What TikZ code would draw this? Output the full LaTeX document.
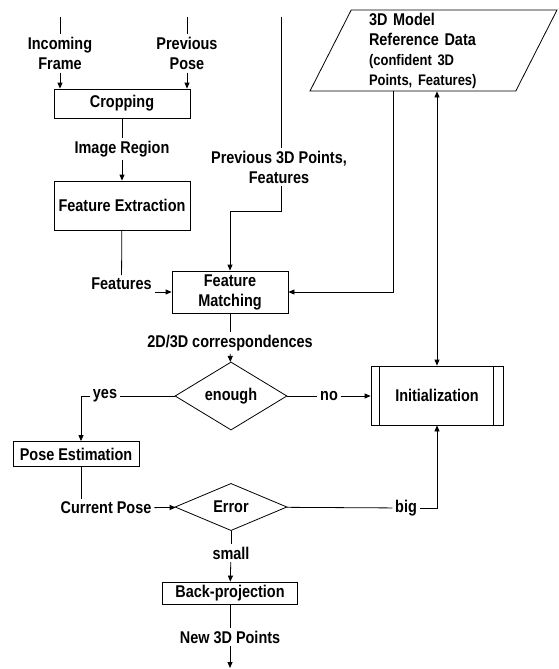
\documentclass[tikz,border=0pt]{standalone}
\usepackage{fontspec}
\setmainfont[FakeStretch=0.85]{Liberation Sans}
\usetikzlibrary{shapes.geometric,arrows.meta}
\newcommand{\notefont}{\fontsize{15.3}{18}\selectfont}
\tikzstyle{box}=[draw,rectangle,align=center,inner sep=2pt]
\tikzstyle{lbl}=[align=center,inner sep=2.5pt]
\tikzstyle{decision}=[draw,diamond,minimum width=112pt,minimum height=46pt,inner sep=0pt]
\tikzstyle{store}=[draw,trapezium,trapezium left angle=62,trapezium right angle=118,
  trapezium stretches body,minimum width=247pt,minimum height=81pt,
  text width=129pt,align=left,inner sep=1pt]

\begin{document}
\begin{tikzpicture}[x=1pt, y=-1pt, >={Triangle[length=6pt,width=5pt]},
    line width=0.8pt, font=\fontsize{17}{20}\selectfont\bfseries]
  \useasboundingbox (0,0) rectangle (558,669);

  \coordinate (inTop)  at (60,17);
  \coordinate (prTop)  at (187,17);
  \coordinate (p3dTop) at (281,17);
  \coordinate (p3dBend) at (281,211);
  \coordinate (newEnd) at (230,668);

  \node[lbl] (inLbl) at (60,53.5) {Incoming\\Frame};
  \node[lbl] (prLbl) at (187,53.5) {Previous\\Pose};
  \node[box, minimum width=136pt, minimum height=29pt] (crop) at (122,103.5) {Cropping};
  \node[lbl] (regLbl) at (122,149) {Image Region};
  \node[box, minimum width=136pt, minimum height=49pt] (fext) at (122,205.5) {Feature Extraction};
  \node[lbl] (featLbl) at (121.5,284) {Features};
  \node[lbl] (p3dLbl) at (279,167) {Previous 3D Points,\\Features};
  \node[store] (model) at (433.5,50.5)
    {3D Model\\Reference Data\\{\notefont (confident 3D}\\{\notefont Points, Features)}};
  \node[box, minimum width=116pt, minimum height=42pt] (fmatch) at (230,292) {Feature\\Matching};
  \node[lbl] (corrLbl) at (230,343) {2D/3D correspondences};
  \node[decision] (enough) at (231,396) {enough};
  \node[lbl] (yesLbl) at (105,396) {yes};
  \node[lbl] (noLbl) at (329,396) {no};
  \node[box, minimum width=132pt, minimum height=59pt] (init) at (437,395.5) {Initialization};
  \node[box, minimum width=126pt, minimum height=25pt] (pose) at (76,454) {Pose Estimation};
  \node[lbl] (curLbl) at (106,508) {Current Pose};
  \node[decision] (err) at (231,507) {Error};
  \node[lbl] (bigLbl) at (406,508) {big};
  \node[lbl] (smallLbl) at (231,553) {small};
  \node[box, minimum width=135pt, minimum height=22pt] (back) at (230,593) {Back-projection};
  \node[lbl] (newLbl) at (230,637) {New 3D Points};

  % extra bars of the initialization box
  \draw ([xshift=9pt]init.north west) -- ([xshift=9pt]init.south west)
        ([xshift=-10pt]init.north east) -- ([xshift=-10pt]init.south east);

  \draw (inTop) -- (inLbl);
  \draw[->] (inLbl) -- (inLbl |- crop.north);
  \draw (prTop) -- (prLbl);
  \draw[->] (prLbl) -- (prLbl |- crop.north);
  \draw (crop) -- (regLbl);
  \draw[->] (regLbl) -- (fext);
  \draw (fext) -- (featLbl);
  \draw[->] (featLbl.east |- fmatch) -- (fmatch);
  \draw (p3dTop) -- (p3dTop |- p3dLbl.north);
  \draw[->] (p3dTop |- p3dLbl.south) -- (p3dBend) -| (fmatch.north);
  \draw[->] ([xshift=-40.5pt]model.south) |- (fmatch.east);
  \draw[<->] (init.north) -- (init.north |- model.south);
  \draw (fmatch) -- (corrLbl);
  \draw[->] (corrLbl) -- (enough);
  \draw (enough) -- (noLbl);
  \draw[->] (noLbl) -- (init.west |- noLbl);
  \draw (enough) -- (yesLbl);
  \draw[->] (yesLbl.west) -| ([xshift=5pt]pose.north);
  \draw ([xshift=5pt]pose.south) -- ([xshift=5pt]pose.south |- curLbl.north);
  \draw[->] (curLbl) -- (err);
  \draw (err) -- (bigLbl);
  \draw[->] (bigLbl) -| (init.south);
  \draw (err) -- (smallLbl);
  \draw[->] (smallLbl) -- (back);
  \draw (back) -- (newLbl);
  \draw[->] (newLbl) -- (newEnd);
\end{tikzpicture}
\end{document}
